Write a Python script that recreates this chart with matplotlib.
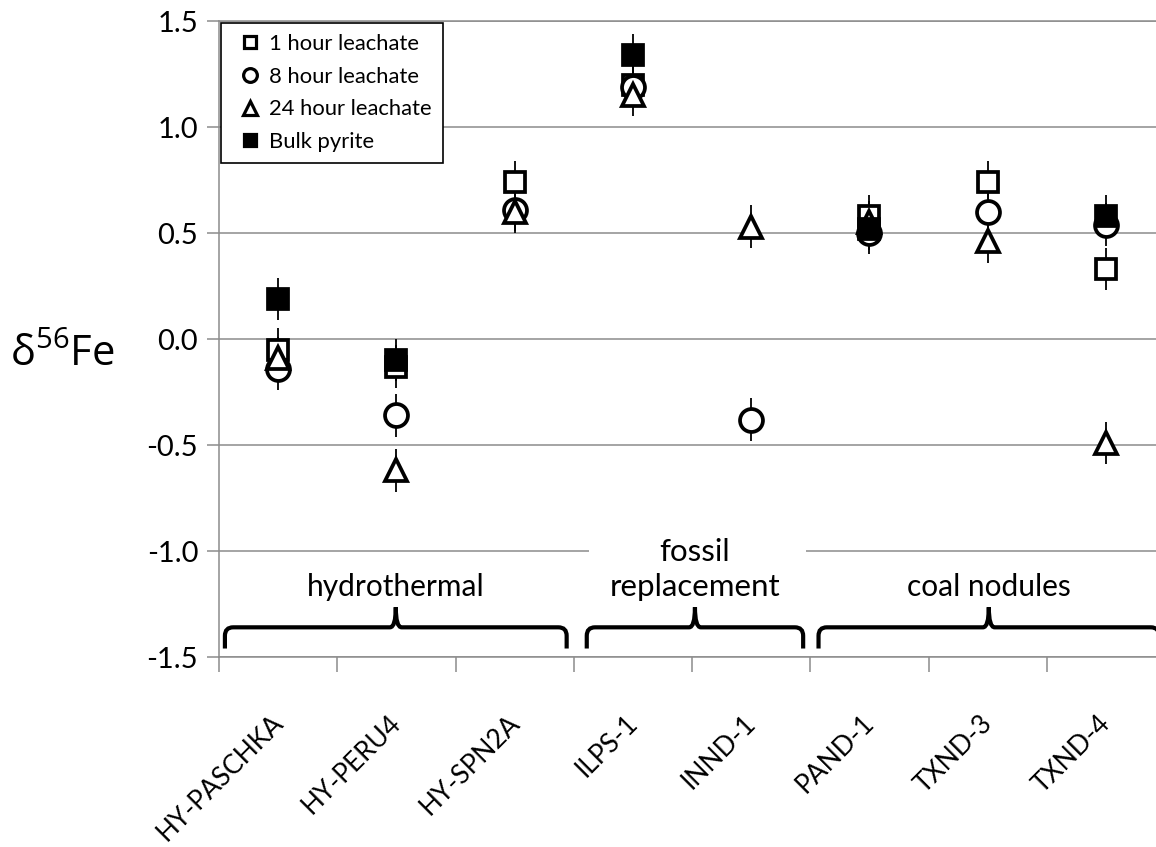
import numpy as np
import matplotlib
matplotlib.use('Agg')
import matplotlib.pyplot as plt
from matplotlib.path import Path
from matplotlib.patches import PathPatch, Rectangle
from matplotlib.lines import Line2D
from matplotlib.transforms import blended_transform_factory, ScaledTranslation

plt.rcParams['font.family'] = ['Lato', 'DejaVu Sans']
plt.rcParams['mathtext.fontset'] = 'custom'
plt.rcParams['mathtext.rm'] = 'Open Sans'

samples = ['HY-PASCHKA', 'HY-PERU4', 'HY-SPN2A', 'ILPS-1',
           'INND-1', 'PAND-1', 'TXND-3', 'TXND-4']
nan = np.nan
leach_1h = [-0.05, -0.13, 0.74, 1.20, nan, 0.58, 0.74, 0.33]
leach_8h = [-0.14, -0.36, 0.61, 1.19, -0.38, 0.50, 0.60, 0.54]
leach_24h = [-0.09, -0.62, 0.60, 1.15, 0.53, 0.55, 0.46, -0.49]
bulk_pyrite = [0.19, -0.10, nan, 1.34, nan, 0.52, nan, 0.58]
err_2sd = 0.1

groups = ['hydrothermal', 'fossil\nreplacement', 'coal nodules']
group_span = [(-0.45, 2.44), (2.61, 4.44), (4.57, 7.45)]

fig = plt.figure(figsize=(11.56, 8.47), dpi=100)
ax = fig.add_axes([219 / 1156, 190 / 847, 946 / 1156, 636 / 847])

x = np.arange(len(samples))
grey = '#8c8c8c'

series = [
    (leach_1h, 's', 'white', 14.5, '1 hour leachate'),
    (leach_8h, 'o', 'white', 16.5, '8 hour leachate'),
    (leach_24h, '^', 'white', 16.5, '24 hour leachate'),
    (bulk_pyrite, 's', 'black', 14.5, 'Bulk pyrite'),
]

for k, (vals, mk, fc, ms, lab) in enumerate(series):
    v = np.array(vals, dtype=float)
    ok = ~np.isnan(v)
    ax.vlines(x[ok], v[ok] - err_2sd, v[ok] + err_2sd, color='black',
              lw=1.3, zorder=3)
    ax.plot(x[ok], v[ok], ls='none', marker=mk, ms=ms, mfc=fc, mec='black',
            mew=2.7, zorder=4 + k)

ax.set_xlim(-0.5, 7.5)
ax.set_ylim(-1.5, 1.5)
ax.set_yticks(np.arange(-1.5, 1.51, 0.5))
ax.set_yticklabels(['%.1f' % t for t in np.arange(-1.5, 1.51, 0.5)],
                   fontsize=21)
ax.yaxis.grid(True, color=grey, lw=1.1, zorder=0)
ax.set_axisbelow(True)
ax.set_xticks(np.arange(-0.5, 7.6, 1.0))
ax.set_xticklabels([])
ax.tick_params(axis='y', length=9, width=1.1, color=grey, pad=6)
ax.tick_params(axis='x', length=11, width=1.1, color=grey)
for side in ['left', 'bottom', 'top']:
    ax.spines[side].set_color(grey)
    ax.spines[side].set_linewidth(1.1)
ax.spines['right'].set_visible(False)

# rotated sample names under each category
lab_tr = blended_transform_factory(ax.transData, ax.transAxes) + \
    ScaledTranslation(1 / 100, -62 / 100, fig.dpi_scale_trans)
for xi, name in zip(x, samples):
    ax.text(xi, 0, name, transform=lab_tr, rotation=45, rotation_mode='anchor',
            ha='right', va='center', fontsize=19, clip_on=False)

fig.text(10 / 1156, 1 - 355 / 847, r'δ$^{56}$Fe', fontsize=30,
         family=['Open Sans', 'DejaVu Sans'], va='center', ha='left')

# brace-style brackets grouping the samples
y_end, y_bar, y_tip = -1.46, -1.36, -1.265
rx, ry, cx = 0.07, 0.04, 0.05
for (x0, x1), name in zip(group_span, groups):
    mid = (x0 + x1) / 2
    verts = [(x0, y_end), (x0, y_bar - ry), (x0, y_bar), (x0 + rx, y_bar),
             (mid - cx, y_bar), (mid, y_bar), (mid, y_tip),
             (mid, y_bar), (mid + cx, y_bar),
             (x1 - rx, y_bar), (x1, y_bar), (x1, y_bar - ry), (x1, y_end)]
    codes = [Path.MOVETO, Path.LINETO, Path.CURVE3, Path.CURVE3,
             Path.LINETO, Path.CURVE3, Path.CURVE3,
             Path.CURVE3, Path.CURVE3,
             Path.LINETO, Path.CURVE3, Path.CURVE3, Path.LINETO]
    ax.add_patch(PathPatch(Path(verts, codes), fill=False, lw=3.0,
                           edgecolor='black', capstyle='butt', zorder=8,
                           clip_on=False))
    if '\n' in name:
        ax.add_patch(Rectangle((2.63, -1.27), 1.83, 0.33, facecolor='white',
                               edgecolor='none', zorder=1))
        top, bottom = name.split('\n')
        ax.text(mid, -1.045, top, ha='center', va='baseline', fontsize=22.5,
                zorder=9)
        ax.text(mid, -1.21, bottom, ha='center', va='baseline', fontsize=22.5,
                zorder=9)
    else:
        ax.text(mid, -1.21, name, ha='center', va='baseline', fontsize=21.5,
                zorder=9)

handles = [Line2D([], [], ls='none', marker=mk, ms=ms * 0.6, mfc=fc,
                  mec='black', mew=2.3, label=lab)
           for (_, mk, fc, ms, lab) in series]
leg = ax.legend(handles=handles, loc='upper left',
                bbox_to_anchor=(2 / 946, 1 - 2 / 636), fontsize=15.8,
                frameon=True, fancybox=False, framealpha=1, borderpad=0.5,
                labelspacing=0.58, handlelength=1.6, handletextpad=0.1,
                borderaxespad=0)
leg.get_frame().set_edgecolor('black')
leg.get_frame().set_linewidth(1.2)
leg.set_zorder(10)

fig.savefig('out.png', dpi=100)
